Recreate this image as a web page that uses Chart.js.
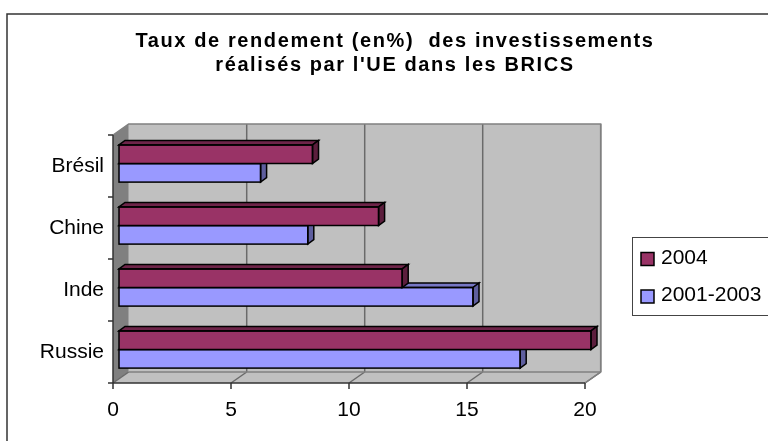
<!DOCTYPE html>
<html>
<head>
<meta charset="utf-8">
<script src="https://cdn.jsdelivr.net/npm/chart.js@4"></script>
<style>
html,body{margin:0;padding:0;background:#fff;}
#wrap{width:768px;height:441px;position:relative;}
</style>
</head>
<body>
<div id="wrap"><canvas id="c" width="768" height="441"></canvas></div>
<script>
const titleLines = ["Taux de rendement (en%)  des investissements", "réalisés par l'UE dans les BRICS"];
const categories = ["Brésil", "Chine", "Inde", "Russie"];
const series2004 = [8.2, 11, 12, 20];
const series2001_2003 = [6, 8, 15, 17];
const seriesLabels = ["2004", "2001-2003"];
const xTicks = [0, 5, 10, 15, 20];

const FONT = "'Liberation Sans', Arial, sans-serif";
const frontColors = ['#993366', '#9999ff'];
const topColors = ['#6e2449', '#7676c4'];
const sideColors = ['#5c1e3d', '#5e5e9e'];
const FRONT = {dx: -6, dy: 2.5};
const BACK = {dx: 9.7, dy: -8.5};
const BAR = {dx: 6, dy: -4.5};

const threeD = {
  id: 'threeD',
  beforeDatasetsDraw(chart) {
    const ctx = chart.ctx;
    const {left, right, top, bottom} = chart.chartArea;
    const xs = chart.scales.x, ys = chart.scales.y;
    ctx.save();
    ctx.fillStyle = '#c0c0c0';
    ctx.fillRect(left + BACK.dx, top + BACK.dy, right - left, bottom - top);
    ctx.fillStyle = '#808080';
    ctx.beginPath();
    ctx.moveTo(left + FRONT.dx, top + FRONT.dy);
    ctx.lineTo(left + BACK.dx, top + BACK.dy);
    ctx.lineTo(left + BACK.dx, bottom + BACK.dy);
    ctx.lineTo(left + FRONT.dx, bottom + FRONT.dy);
    ctx.closePath();
    ctx.fill();
    ctx.fillStyle = '#c0c0c0';
    ctx.beginPath();
    ctx.moveTo(left + FRONT.dx, bottom + FRONT.dy);
    ctx.lineTo(right + FRONT.dx, bottom + FRONT.dy);
    ctx.lineTo(right + BACK.dx, bottom + BACK.dy);
    ctx.lineTo(left + BACK.dx, bottom + BACK.dy);
    ctx.closePath();
    ctx.fill();
    ctx.strokeStyle = '#6a6a6a';
    ctx.lineWidth = 1.5;
    xTicks.forEach(v => {
      const X = xs.getPixelForValue(v);
      if (v !== 0) {
        ctx.beginPath();
        ctx.moveTo(X + BACK.dx, top + BACK.dy);
        ctx.lineTo(X + BACK.dx, bottom + BACK.dy);
        ctx.stroke();
      }
      ctx.beginPath();
      ctx.moveTo(X + FRONT.dx, bottom + FRONT.dy);
      ctx.lineTo(X + BACK.dx, bottom + BACK.dy);
      ctx.stroke();
    });
    ctx.strokeStyle = '#808080';
    ctx.beginPath();
    ctx.moveTo(left + FRONT.dx, top + FRONT.dy);
    ctx.lineTo(left + BACK.dx, top + BACK.dy);
    ctx.lineTo(right + BACK.dx, top + BACK.dy);
    ctx.lineTo(right + BACK.dx, bottom + BACK.dy);
    ctx.lineTo(right + FRONT.dx, bottom + FRONT.dy);
    ctx.stroke();
    ctx.beginPath();
    ctx.moveTo(left + BACK.dx, bottom + BACK.dy);
    ctx.lineTo(right + BACK.dx, bottom + BACK.dy);
    ctx.stroke();
    ctx.strokeStyle = '#333333';
    ctx.lineWidth = 1.5;
    ctx.beginPath();
    ctx.moveTo(left + FRONT.dx - 5, bottom + FRONT.dy);
    ctx.lineTo(right + FRONT.dx, bottom + FRONT.dy);
    ctx.moveTo(left + FRONT.dx, top + FRONT.dy);
    ctx.lineTo(left + FRONT.dx, bottom + FRONT.dy + 6);
    xTicks.forEach(v => {
      const X = xs.getPixelForValue(v) + FRONT.dx;
      ctx.moveTo(X, bottom + FRONT.dy);
      ctx.lineTo(X, bottom + FRONT.dy + 6);
    });
    const band = (bottom - top) / categories.length;
    for (let i = 0; i < categories.length; i++) {
      const Y = ys.getPixelForValue(i) - band / 2 + FRONT.dy;
      ctx.moveTo(left + FRONT.dx - 5, Y);
      ctx.lineTo(left + FRONT.dx, Y);
    }
    ctx.stroke();
    ctx.restore();
  },
  afterDatasetDraw(chart, args) {
    const ctx = chart.ctx;
    const meta = args.meta;
    const di = args.index;
    ctx.save();
    ctx.lineWidth = 1.5;
    ctx.strokeStyle = '#000';
    meta.data.forEach(bar => {
      const p = bar.getProps(['x', 'y', 'base', 'height'], true);
      const x0 = p.base, x1 = p.x;
      const yT = p.y - p.height / 2, yB = p.y + p.height / 2;
      ctx.fillStyle = topColors[di];
      ctx.beginPath();
      ctx.moveTo(x0, yT);
      ctx.lineTo(x0 + BAR.dx, yT + BAR.dy);
      ctx.lineTo(x1 + BAR.dx, yT + BAR.dy);
      ctx.lineTo(x1, yT);
      ctx.closePath();
      ctx.fill(); ctx.stroke();
      ctx.fillStyle = sideColors[di];
      ctx.beginPath();
      ctx.moveTo(x1, yT);
      ctx.lineTo(x1 + BAR.dx, yT + BAR.dy);
      ctx.lineTo(x1 + BAR.dx, yB + BAR.dy);
      ctx.lineTo(x1, yB);
      ctx.closePath();
      ctx.fill(); ctx.stroke();
      ctx.strokeRect(x0, yT, x1 - x0, yB - yT);
    });
    ctx.restore();
  },
  afterDraw(chart) {
    const ctx = chart.ctx;
    ctx.save();
    ctx.strokeStyle = '#333';
    ctx.lineWidth = 1.5;
    ctx.strokeRect(7, 14, 800, 500);
    ctx.fillStyle = '#000';
    ctx.font = "bold 20px " + FONT;
    ctx.letterSpacing = '1.6px';
    ctx.textAlign = 'center';
    ctx.textBaseline = 'alphabetic';
    ctx.fillText(titleLines[0], 395, 47);
    ctx.fillText(titleLines[1], 395, 71);
    ctx.letterSpacing = '0px';
    ctx.strokeStyle = '#444';
    ctx.lineWidth = 1;
    ctx.strokeRect(632.5, 237.5, 200, 78);
    ctx.font = "21px " + FONT;
    ctx.textAlign = 'left';
    ctx.textBaseline = 'middle';
    const ds = chart.data.datasets;
    ds.forEach((d, i) => {
      const yc = 259 + i * 37.5;
      ctx.fillStyle = d.backgroundColor;
      ctx.fillRect(641, yc - 6.5, 13, 13);
      ctx.strokeStyle = '#000';
      ctx.lineWidth = 1.5;
      ctx.strokeRect(641, yc - 6.5, 13, 13);
      ctx.fillStyle = '#000';
      ctx.fillText(d.label, 661, yc - 1);
    });
    ctx.restore();
  }
};

new Chart(document.getElementById('c'), {
  type: 'bar',
  data: {
    labels: categories,
    datasets: [
      {label: seriesLabels[0], data: series2004, backgroundColor: frontColors[0], borderWidth: 0},
      {label: seriesLabels[1], data: series2001_2003, backgroundColor: frontColors[1], borderWidth: 0}
    ]
  },
  options: {
    indexAxis: 'y',
    responsive: false,
    animation: false,
    devicePixelRatio: 1,
    layout: {padding: {left: 0, right: 177, top: 132.5, bottom: 0}},
    datasets: {bar: {categoryPercentage: 0.6, barPercentage: 1.0}},
    plugins: {legend: {display: false}, title: {display: false}, tooltip: {enabled: false}},
    scales: {
      x: {
        min: 0, max: 20,
        afterFit(s) { s.height = 441 - 380.5; },
        afterBuildTicks(s) { s.ticks = xTicks.map(v => ({value: v})); },
        grid: {display: false, drawTicks: false},
        border: {display: false},
        ticks: {color: '#000', font: {family: FONT, size: 21}, padding: 17, labelOffset: -6, maxRotation: 0}
      },
      y: {
        afterFit(s) { s.width = 119; },
        grid: {display: false, drawTicks: false},
        border: {display: false},
        ticks: {color: '#000', font: {family: FONT, size: 21}, padding: 15, labelOffset: 2.5}
      }
    }
  },
  plugins: [threeD]
});
</script>
</body>
</html>
